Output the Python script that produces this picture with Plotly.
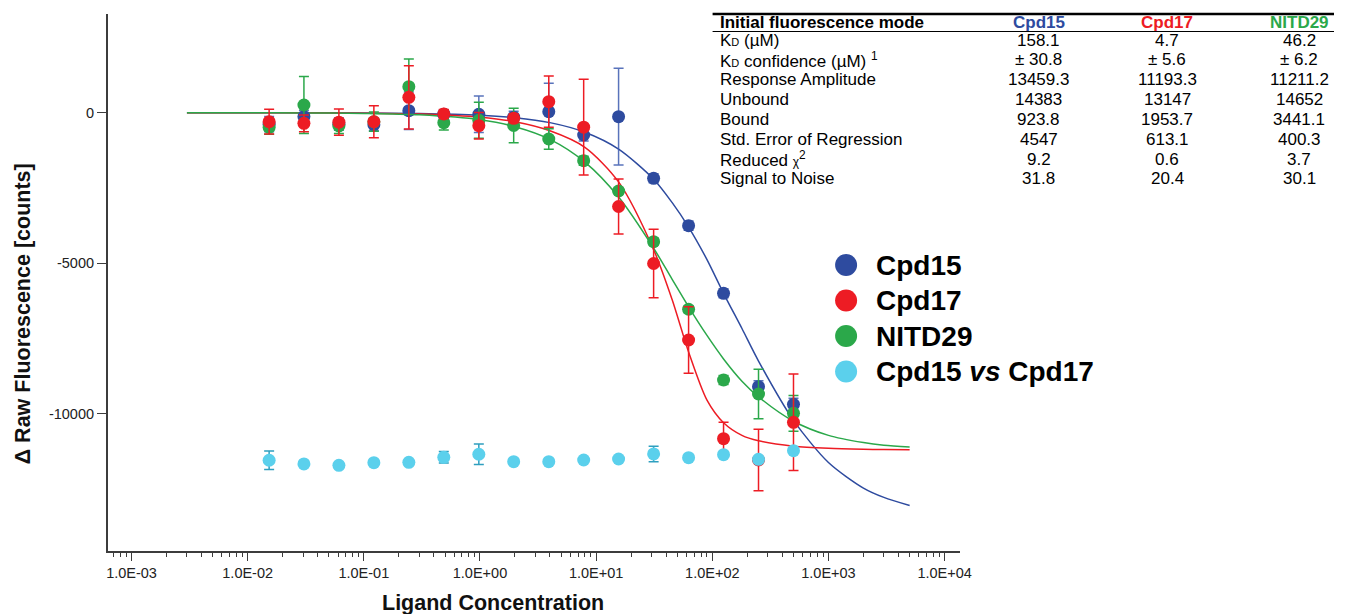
import plotly.graph_objects as go

# ---------------- data ----------------
concentration = [0.0153, 0.0305, 0.061, 0.122, 0.244, 0.488, 0.977, 1.95, 3.91,
                 7.81, 15.6, 31.25, 62.5, 125, 250, 500]

cpd15 = [-380, -130, -380, -400, 66, -50, -53, -150, 33, -741, -133, -2180,
         -3752, -6000, -9102, -9687]
cpd15_err = [250, 200, 200, 200, 620, 150, 608, 200, 943, 200, 1606, 150,
             150, 150, 200, 200]

cpd17 = [-297, -353, -314, -298, 510, -40, -432, -187, 366, -480, -3117, -5010,
         -7551, -10830, -11538, -10285]
cpd17_err = [410, 280, 437, 531, 1051, 150, 440, 150, 850, 1590, 913, 1135,
             1107, 545, 1020, 1605]

nitd29 = [-485, 256, -442, -300, 864, -332, -250, -425, -874, -1594, -2601,
          -4285, -6530, -8880, -9345, -9987]
nitd29_err = [230, 950, 250, 320, 920, 243, 595, 570, 343, 150, 100, 120,
              120, 150, 825, 593]

cpd15_vs_cpd17 = [-11546, -11670, -11714, -11626, -11615, -11448, -11348,
                  -11594, -11594, -11538, -11505, -11338, -11460, -11360,
                  -11515, -11228]
cpd15_vs_cpd17_err = [305, 60, 60, 60, 60, 190, 340, 60, 60, 60, 60, 260,
                      60, 60, 60, 60]

# fitted curves
fit_concentration = [0.003, 0.01, 0.03, 0.1, 0.3, 1, 2, 4, 8, 15.6, 31.25, 45,
                     62.5, 90, 125, 180, 250, 500, 1000, 2000, 3000, 5000]
fit_cpd15 = [0, -1, -3, -9, -25, -85, -168, -330, -650, -1210, -2210, -2980,
             -3800, -4880, -6000, -7170, -8250, -10220, -11620, -12470, -12780,
             -13050]
fit_cpd17 = [0, -2, -5, -15, -45, -150, -300, -600, -1150, -2300, -4550, -6200,
             -7950, -9550, -10300, -10720, -10900, -11080, -11150, -11180, -11190,
             -11200]
fit_nitd29 = [0, -2, -7, -24, -72, -235, -465, -885, -1640, -2800, -4500, -5530,
              -6450, -7400, -8180, -8920, -9440, -10250, -10720, -10960, -11050,
              -11110]

series_names = ["Cpd15", "Cpd17", "NITD29", "Cpd15 vs Cpd17"]
legend_labels = ["<b>Cpd15</b>", "<b>Cpd17</b>", "<b>NITD29</b>",
                 "<b>Cpd15 <i>vs</i> Cpd17</b>"]

x_tickvals = [1e-3, 1e-2, 1e-1, 1e0, 1e1, 1e2, 1e3, 1e4]
x_ticktext = ["1.0E-03", "1.0E-02", "1.0E-01", "1.0E+00", "1.0E+01",
              "1.0E+02", "1.0E+03", "1.0E+04"]
y_tickvals = [0, -5000, -10000]
y_ticktext = ["0", "-5000", "-10000"]

table_header = ["Initial fluorescence mode", "Cpd15", "Cpd17", "NITD29"]
table_rows = ["K<span style='font-size:11px'>D</span> (µM)",
              "K<span style='font-size:11px'>D</span> confidence (µM) <sup>1</sup>",
              "Response Amplitude", "Unbound", "Bound",
              "Std. Error of Regression",
              "Reduced <span style='font-size:12px'>χ</span><sup>2</sup>",
              "Signal to Noise"]
table_cpd15 = ["158.1", "± 30.8", "13459.3", "14383", "923.8", "4547", "9.2", "31.8"]
table_cpd17 = ["4.7", "± 5.6", "11193.3", "13147", "1953.7", "613.1", "0.6", "20.4"]
table_nitd29 = ["46.2", "± 6.2", "11211.2", "14652", "3441.1", "400.3", "3.7", "30.1"]

# ---------------- styling ----------------
W, H = 1345, 614
FONT = "Arial, Liberation Sans, sans-serif"
BLUE = "#2E4B9F"
RED = "#ED1C24"
GREEN = "#2BA84A"
CYAN = "#5BD0EC"
AXIS = "#3c3c3c"


def px_x(x):
    return x / W


def px_y(y):
    return 1 - y / H


fig = go.Figure()

# curves
for ys, col in [(fit_cpd15, BLUE), (fit_cpd17, RED), (fit_nitd29, GREEN)]:
    fig.add_trace(go.Scatter(x=fit_concentration, y=ys, mode="lines",
                             line=dict(color=col, width=1.5, shape="spline",
                                       smoothing=0.8),
                             showlegend=False, hoverinfo="skip"))

# points
for name, ys, err, col, ecol in [
        ("Cpd15", cpd15, cpd15_err, BLUE, "rgba(60,90,175,0.85)"),
        ("NITD29", nitd29, nitd29_err, GREEN, GREEN),
        ("Cpd17", cpd17, cpd17_err, RED, RED),
        ("Cpd15 vs Cpd17", cpd15_vs_cpd17, cpd15_vs_cpd17_err, CYAN, "#2F9FBF")]:
    fig.add_trace(go.Scatter(x=concentration, y=ys, mode="markers", name=name,
                             marker=dict(size=13, color=col),
                             error_y=dict(type="data", array=err, visible=True,
                                          color=ecol, thickness=1.5, width=5),
                             showlegend=False))

# legend swatches (separate invisible axes)
fig.add_trace(go.Scatter(x=[0, 0, 0, 0], y=series_names, mode="markers",
                         marker=dict(size=22, color=[BLUE, RED, GREEN, CYAN]),
                         xaxis="x2", yaxis="y2", showlegend=False,
                         hoverinfo="skip"))

# ---------------- layout ----------------
ax_left, ax_right, ax_top, ax_bottom = 107.7, 968, 14, 550.7
dec_px = 117.2
x_at_1em3 = 131.7
x_range = [-3 + (ax_left - x_at_1em3) / dec_px, -3 + (ax_right - x_at_1em3) / dec_px]
y0_px, per_px = 112.7, 5000 / 150.5
y_range = [(y0_px - ax_bottom) * per_px, (y0_px - ax_top) * per_px]

annotations = []
# axis titles
annotations.append(dict(text="<b>Ligand Concentration</b>", x=px_x(496.5), y=px_y(603),
                        xref="paper", yref="paper", showarrow=False,
                        xanchor="center", yanchor="middle",
                        font=dict(family=FONT, size=21.5, color="#111")))
annotations.append(dict(text="<b>Δ Raw Fluorescence [counts]</b>", x=px_x(22), y=px_y(313.5),
                        xref="paper", yref="paper", showarrow=False, textangle=-90,
                        xanchor="center", yanchor="middle",
                        font=dict(family=FONT, size=21.5, color="#111")))

# legend labels
leg_y = [265, 300.5, 336, 371.5]
for lab, yy in zip(legend_labels, leg_y):
    annotations.append(dict(text=lab, x=px_x(881), y=px_y(yy), xref="paper", yref="paper",
                            showarrow=False, xanchor="left", yanchor="middle",
                            font=dict(family=FONT, size=28, color="#000")))

# table
col_x = [1047, 1177, 1310]
head_cols = ["#000", BLUE, RED, GREEN]
annotations.append(dict(text="<b>" + table_header[0] + "</b>", x=px_x(723), y=px_y(22.5),
                        xref="paper", yref="paper", showarrow=False,
                        xanchor="left", yanchor="middle",
                        font=dict(family=FONT, size=17, color="#000")))
for i in range(3):
    annotations.append(dict(text="<b>" + table_header[i + 1] + "</b>", x=px_x(col_x[i]),
                            y=px_y(22.5), xref="paper", yref="paper", showarrow=False,
                            xanchor="center", yanchor="middle",
                            font=dict(family=FONT, size=17, color=head_cols[i + 1])))
row_y0, row_step = 40, 19.85
for r, lab in enumerate(table_rows):
    yy = row_y0 + r * row_step
    annotations.append(dict(text=lab, x=px_x(723), y=px_y(yy), xref="paper", yref="paper",
                            showarrow=False, xanchor="left", yanchor="middle",
                            font=dict(family=FONT, size=17, color="#000")))
    for cx, vals in zip(col_x, [table_cpd15, table_cpd17, table_nitd29]):
        annotations.append(dict(text=vals[r], x=px_x(cx), y=px_y(yy), xref="paper",
                                yref="paper", showarrow=False, xanchor="center",
                                yanchor="middle",
                                font=dict(family=FONT, size=17, color="#000")))

shapes = [
    dict(type="line", xref="paper", yref="paper", x0=px_x(718), x1=px_x(1345),
         y0=px_y(14), y1=px_y(14), line=dict(color="#000", width=2.5)),
    dict(type="line", xref="paper", yref="paper", x0=px_x(718), x1=px_x(1345),
         y0=px_y(31.5), y1=px_y(31.5), line=dict(color="#000", width=1.2)),
]

fig.update_layout(
    width=W, height=H,
    margin=dict(l=0, r=0, t=0, b=0),
    paper_bgcolor="white", plot_bgcolor="white",
    font=dict(family=FONT, color="#222"),
    xaxis=dict(type="log", range=x_range,
               domain=[px_x(ax_left), px_x(ax_right)],
               showgrid=False, zeroline=False, showline=True,
               linecolor=AXIS, linewidth=1.6,
               ticks="outside", ticklen=8, tickwidth=1.4, tickcolor=AXIS,
               tickmode="array", tickvals=x_tickvals, ticktext=x_ticktext,
               tickfont=dict(family=FONT, size=14.5, color="#222"),
               ticklabelstandoff=0,
               minor=dict(ticks="outside", ticklen=4.5, tickwidth=1.1,
                          tickcolor=AXIS, dtick="D1", showgrid=False),
               anchor="y"),
    yaxis=dict(range=y_range,
               domain=[px_y(ax_bottom), px_y(ax_top)],
               showgrid=False, zeroline=False, showline=True,
               linecolor=AXIS, linewidth=1.6,
               ticks="outside", ticklen=9, tickwidth=1.4, tickcolor=AXIS,
               tickmode="array", tickvals=y_tickvals, ticktext=y_ticktext,
               tickfont=dict(family=FONT, size=14.5, color="#222"),
               anchor="x"),
    xaxis2=dict(domain=[px_x(830), px_x(1200)], range=[-22.7, 347.3],
                visible=False, anchor="y2", fixedrange=True),
    yaxis2=dict(domain=[px_y(389.25), px_y(247.25)], type="category",
                categoryorder="array", categoryarray=series_names,
                range=[3.5, -0.5], visible=False, anchor="x2", fixedrange=True),
    annotations=annotations,
    shapes=shapes,
    showlegend=False,
)

fig.write_html("out.html", config={"displayModeBar": False},
               post_script="document.body.style.margin='0px';")
